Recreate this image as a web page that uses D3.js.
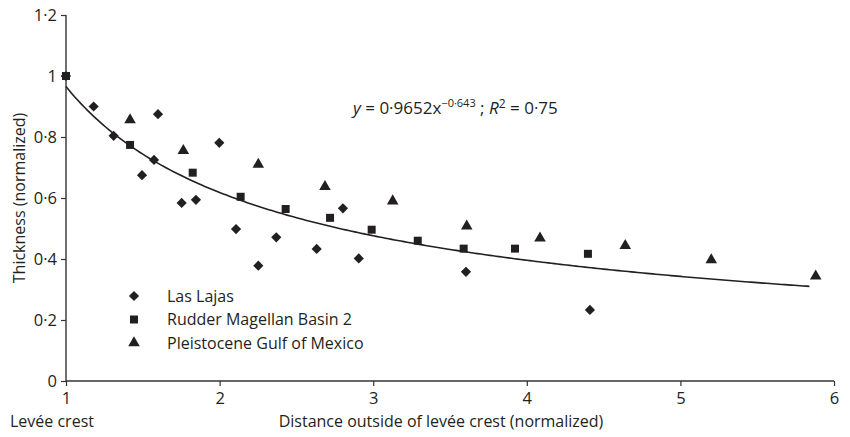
<!DOCTYPE html>
<html>
<head>
<meta charset="utf-8">
<script src="https://cdn.jsdelivr.net/npm/d3@7"></script>
<style>
  html, body { margin: 0; padding: 0; background: #fff; }
  svg text { font-family: "Open Sans", "Noto Sans", sans-serif; fill: #231f20; }
</style>
</head>
<body>
<svg id="chart" width="850" height="437"></svg>
<script>
// Las Lajas (diamonds)
const lasLajasX = [1.00, 1.18, 1.31, 1.495, 1.573, 1.599, 1.753, 1.846, 1.998, 2.107, 2.252, 2.369, 2.632, 2.803, 2.906, 3.604, 4.411];
const lasLajasY = [1.00, 0.90, 0.804, 0.675, 0.725, 0.875, 0.584, 0.594, 0.781, 0.498, 0.378, 0.471, 0.433, 0.566, 0.402, 0.358, 0.233];

// Rudder Magellan Basin 2 (squares)
const rudderX = [1.00, 1.417, 1.825, 2.137, 2.43, 2.719, 2.99, 3.29, 3.589, 3.923, 4.398];
const rudderY = [1.00, 0.774, 0.683, 0.604, 0.564, 0.535, 0.496, 0.46, 0.434, 0.434, 0.417];

// Pleistocene Gulf of Mexico (triangles)
const gulfX = [1.417, 1.764, 2.252, 2.686, 3.127, 3.609, 4.086, 4.641, 5.201, 5.881];
const gulfY = [0.856, 0.755, 0.71, 0.637, 0.59, 0.508, 0.468, 0.444, 0.397, 0.344];

// Power-law fit y = a * x^b
const fitA = 0.9652, fitB = -0.643;
const fitRange = [1, 5.84];

const xTicks = [1, 2, 3, 4, 5, 6];
const yTicks = [0, 0.2, 0.4, 0.6, 0.8, 1, 1.2];
const seriesNames = ["Las Lajas", "Rudder Magellan Basin 2", "Pleistocene Gulf of Mexico"];

const ink = "#231f20";
const fontStack = '"Open Sans", "Noto Sans", sans-serif';
const svg = d3.select("#chart");

const x = d3.scaleLinear().domain([1, 6]).range([66, 834]);
const y = d3.scaleLinear().domain([0, 1.2]).range([381, 15]);

const fmt = v => (v === 0 || v === 1) ? String(v) : d3.format(".1f")(v).replace(".", "·");

// X axis
const xAxis = svg.append("g")
  .attr("transform", `translate(0,${y(0)})`)
  .call(d3.axisBottom(x).tickValues(xTicks).tickSize(5).tickPadding(6).tickFormat(d => String(d)));
xAxis.select(".domain").attr("stroke", "#333").attr("stroke-width", 1.4).attr("d", `M${x(1)},0H${x(6)}`);
xAxis.selectAll(".tick line").attr("stroke", "#333").attr("stroke-width", 1.2);
xAxis.selectAll(".tick text").attr("font-size", 16.5).attr("fill", ink).style("font-family", fontStack);

// Y axis
const yAxis = svg.append("g")
  .attr("transform", `translate(${x(1)},0)`)
  .call(d3.axisLeft(y).tickValues(yTicks).tickSize(5).tickPadding(4).tickFormat(fmt));
yAxis.select(".domain").attr("stroke", "#333").attr("stroke-width", 1.4).attr("d", `M0,${y(0)}V${y(1.2)}`);
yAxis.selectAll(".tick line").attr("stroke", "#333").attr("stroke-width", 1.2);
yAxis.selectAll(".tick text").attr("font-size", 16.5).attr("fill", ink).style("font-family", fontStack);

// Axis titles
svg.append("text").attr("x", 10).attr("y", 427).attr("font-size", 16).text("Levée crest");
svg.append("text").attr("x", 441).attr("y", 427).attr("text-anchor", "middle").attr("font-size", 16)
  .text("Distance outside of levée crest (normalized)");
svg.append("text")
  .attr("transform", `translate(25,${y(0.6)}) rotate(-90)`)
  .attr("text-anchor", "middle").attr("font-size", 16)
  .text("Thickness (normalized)");

// Fit curve
const curvePts = d3.range(fitRange[0], fitRange[1] + 1e-9, 0.02).map(v => [v, fitA * Math.pow(v, fitB)]);
svg.append("path")
  .attr("d", d3.line().x(d => x(d[0])).y(d => y(d[1]))(curvePts))
  .attr("fill", "none").attr("stroke", ink).attr("stroke-width", 1.6);

// Markers: a 45°-turned square for diamonds
const diamondType = {
  draw(ctx, size) {
    const r = Math.sqrt(size / 2);
    ctx.moveTo(0, -r); ctx.lineTo(r, 0); ctx.lineTo(0, r); ctx.lineTo(-r, 0); ctx.closePath();
  }
};
const diamond = d3.symbol().type(diamondType).size(52);
const square = d3.symbol().type(d3.symbolSquare).size(64);
const triangle = d3.symbol().type(d3.symbolTriangle).size(58);

function drawSeries(xs, ys, sym) {
  svg.append("g").selectAll("path")
    .data(xs.map((v, i) => [v, ys[i]]))
    .join("path")
    .attr("transform", d => `translate(${x(d[0])},${y(d[1])})`)
    .attr("d", sym)
    .attr("fill", ink);
}
drawSeries(lasLajasX, lasLajasY, diamond);
drawSeries(rudderX, rudderY, square);
drawSeries(gulfX, gulfY, triangle);

// Legend
const legendSyms = [diamond, square, triangle];
const legend = svg.append("g");
seriesNames.forEach((name, i) => {
  const ly = 296 + i * 23.5;
  legend.append("path").attr("transform", `translate(134,${ly})`).attr("d", legendSyms[i]).attr("fill", ink);
  legend.append("text").attr("x", 167).attr("y", ly + 5.5).attr("font-size", 16).text(name);
});

// Equation
const eq = svg.append("text").attr("x", 353).attr("y", 114).attr("font-size", 17);
eq.append("tspan").attr("font-style", "italic").text("y");
eq.append("tspan").text(" = 0·9652x");
eq.append("tspan").attr("font-size", 11).attr("dy", -7).text("−0·643");
eq.append("tspan").attr("dy", 7).text(" ; ");
eq.append("tspan").attr("font-style", "italic").text("R");
eq.append("tspan").attr("font-size", 12).attr("dy", -6).text("2");
eq.append("tspan").attr("dy", 6).text(" = 0·75");
</script>
</body>
</html>
